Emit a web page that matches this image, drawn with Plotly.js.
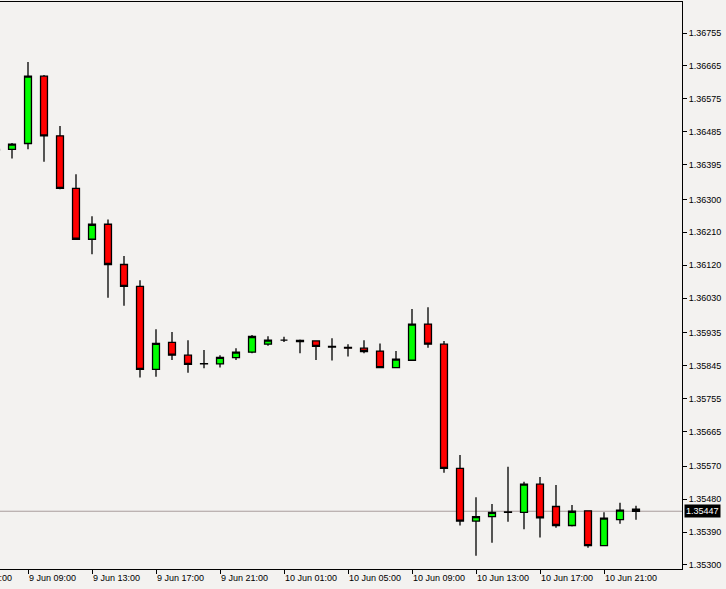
<!DOCTYPE html>
<html>
<head>
<meta charset="utf-8">
<script src="https://cdn.plot.ly/plotly-3.0.1.min.js"></script>
<style>
html,body{margin:0;padding:0;background:#f3f2f0;}
#chart{width:726px;height:589px;}
</style>
</head>
<body>
<div id="chart"></div>
<script>
// Hourly EURUSD candles (H1)
const times = [
  '2014-06-09 07:00','2014-06-09 08:00','2014-06-09 09:00','2014-06-09 10:00','2014-06-09 11:00',
  '2014-06-09 12:00','2014-06-09 13:00','2014-06-09 14:00','2014-06-09 15:00','2014-06-09 16:00',
  '2014-06-09 17:00','2014-06-09 18:00','2014-06-09 19:00','2014-06-09 20:00','2014-06-09 21:00',
  '2014-06-09 22:00','2014-06-09 23:00','2014-06-10 00:00','2014-06-10 01:00','2014-06-10 02:00',
  '2014-06-10 03:00','2014-06-10 04:00','2014-06-10 05:00','2014-06-10 06:00','2014-06-10 07:00',
  '2014-06-10 08:00','2014-06-10 09:00','2014-06-10 10:00','2014-06-10 11:00','2014-06-10 12:00',
  '2014-06-10 13:00','2014-06-10 14:00','2014-06-10 15:00','2014-06-10 16:00','2014-06-10 17:00',
  '2014-06-10 18:00','2014-06-10 19:00','2014-06-10 20:00','2014-06-10 21:00','2014-06-10 22:00',
  '2014-06-10 23:00'
];
const opens = [
  1.36435,1.36437,1.36453,1.36637,1.36474,1.36330,1.36191,1.36232,1.36122,1.36062,
  1.35835,1.35909,1.35874,1.35850,1.35850,1.35867,1.35882,1.35904,1.35915,1.35914,
  1.35913,1.35898,1.35895,1.35893,1.35885,1.35840,1.35860,1.35959,1.35904,1.35564,
  1.35420,1.35432,1.35444,1.35444,1.35521,1.35460,1.35408,1.35448,1.35353,1.35424,
  1.35453
];
const highs = [
  1.36440,1.36454,1.36676,1.36640,1.36501,1.36369,1.36254,1.36245,1.36145,1.36079,
  1.35945,1.35937,1.35915,1.35888,1.35874,1.35893,1.35929,1.35926,1.35924,1.35917,
  1.35915,1.35920,1.35904,1.35915,1.35906,1.35885,1.36000,1.36005,1.35913,1.35601,
  1.35485,1.35467,1.35569,1.35528,1.35541,1.35519,1.35464,1.35449,1.35444,1.35470,
  1.35462
];
const lows = [
  1.36432,1.36412,1.36437,1.36403,1.36328,1.36190,1.36150,1.36031,1.36009,1.35813,
  1.35815,1.35861,1.35826,1.35838,1.35840,1.35861,1.35879,1.35900,1.35910,1.35879,
  1.35861,1.35859,1.35870,1.35879,1.35838,1.35839,1.35858,1.35894,1.35552,1.35408,
  1.35325,1.35361,1.35418,1.35398,1.35375,1.35402,1.35405,1.35347,1.35352,1.35413,
  1.35424
];
const closes = [
  1.36437,1.36451,1.36637,1.36474,1.36330,1.36191,1.36232,1.36122,1.36062,1.35835,
  1.35906,1.35874,1.35849,1.35851,1.35868,1.35882,1.35925,1.35915,1.35915,1.35911,
  1.35898,1.35896,1.35893,1.35884,1.35840,1.35863,1.35959,1.35904,1.35564,1.35420,
  1.35432,1.35444,1.35445,1.35521,1.35429,1.35408,1.35447,1.35353,1.35428,1.35450,
  1.35447
];
const currentPrice = 1.35447;
const priceLabels = ['1.36755','1.36665','1.36575','1.36485','1.36395','1.36300','1.36210','1.36120',
  '1.36030','1.35935','1.35845','1.35755','1.35665','1.35570','1.35480','1.35390','1.35300'];
const timeTicks = ['2014-06-09 05:00','2014-06-09 09:00','2014-06-09 13:00','2014-06-09 17:00','2014-06-09 21:00',
  '2014-06-10 01:00','2014-06-10 05:00','2014-06-10 09:00','2014-06-10 13:00','2014-06-10 17:00','2014-06-10 21:00'];
const timeLabels = ['9 Jun 05:00','9 Jun 09:00','9 Jun 13:00','9 Jun 17:00','9 Jun 21:00',
  '10 Jun 01:00','10 Jun 05:00','10 Jun 09:00','10 Jun 13:00','10 Jun 17:00','10 Jun 21:00'];
const xRange = ['2014-06-09 07:15','2014-06-11 01:52:30'];
const yRange = [1.35289, 1.36840];

const FONT = 'Liberation Sans, Arial, sans-serif';
const toMs = s => Date.parse(s.replace(' ', 'T') + ':00Z'.slice(s.length > 16 ? 3 : 0));
const r0 = toMs(xRange[0]), r1 = toMs(xRange[1]);

const trace = {
  type: 'candlestick',
  x: times, open: opens, high: highs, low: lows, close: closes,
  increasing: {fillcolor: '#00ff00', line: {color: '#000000', width: 1.3}},
  decreasing: {fillcolor: '#ff0000', line: {color: '#000000', width: 1.3}},
  whiskerwidth: 0,
  hoverinfo: 'skip',
  showlegend: false
};

const annotations = timeTicks.map((t, i) => ({
  xref: 'paper', yref: 'paper',
  x: (toMs(t) - r0) / (r1 - r0), y: 0,
  xanchor: 'left', yanchor: 'top', yshift: -3, xshift: 0,
  text: timeLabels[i], showarrow: false, borderpad: 0,
  font: {family: FONT, size: 9, color: '#000000'}
}));
annotations.push({
  xref: 'paper', yref: 'y', x: 1, y: currentPrice,
  xanchor: 'left', yanchor: 'middle', xshift: 2,
  text: currentPrice.toFixed(5), showarrow: false,
  bgcolor: '#000000', borderpad: 1,
  font: {family: FONT, size: 9, color: '#ffffff'}
});

const layout = {
  width: 726, height: 589,
  margin: {l: 0, r: 44, t: 2, b: 20, pad: 0, autoexpand: false},
  paper_bgcolor: '#f3f2f0', plot_bgcolor: '#f3f2f0',
  showlegend: false,
  boxgap: 0.38,
  xaxis: {
    type: 'date', range: xRange, fixedrange: true,
    rangeslider: {visible: false},
    showgrid: false, zeroline: false,
    showline: true, mirror: true, linecolor: '#000000', linewidth: 1,
    tickmode: 'array', tickvals: timeTicks, ticktext: timeTicks.map(() => ''),
    ticks: 'outside', ticklen: 4, tickcolor: '#000000', tickwidth: 1
  },
  yaxis: {
    side: 'right', range: yRange, fixedrange: true,
    showgrid: false, zeroline: false,
    showline: true, linecolor: '#000000', linewidth: 1,
    tickmode: 'array', tickvals: priceLabels.map(Number), ticktext: priceLabels,
    ticks: 'outside', ticklen: 4, tickcolor: '#000000', tickwidth: 1,
    tickfont: {family: FONT, size: 9, color: '#000000'}
  },
  shapes: [{
    type: 'line', xref: 'paper', yref: 'y', x0: 0, x1: 1, y0: currentPrice, y1: currentPrice,
    line: {color: '#a89c9c', width: 1}, layer: 'below'
  }],
  annotations: annotations
};

Plotly.newPlot('chart', [trace], layout, {staticPlot: true, displayModeBar: false});
</script>
</body>
</html>
